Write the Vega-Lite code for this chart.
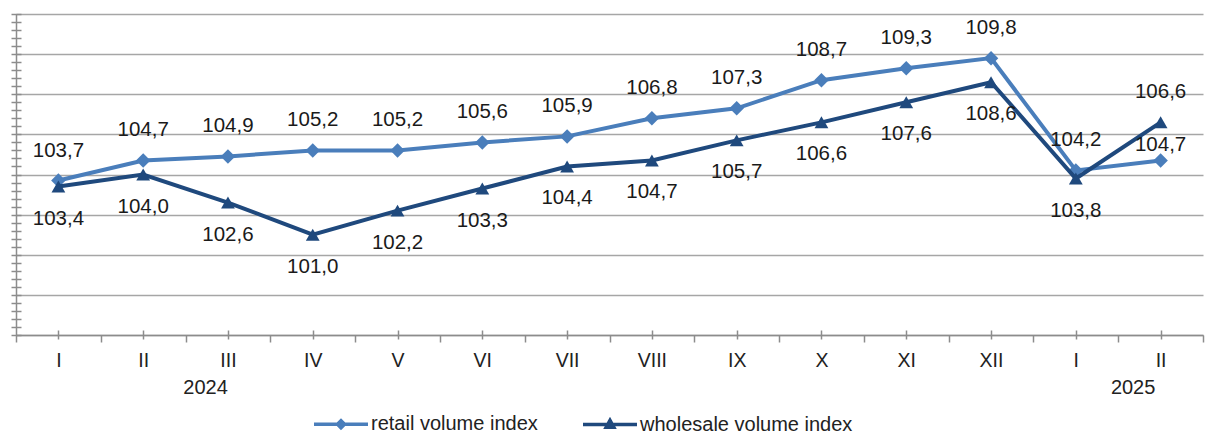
{
  "$schema": "https://vega.github.io/schema/vega-lite/v6.json",
  "width": 1187,
  "height": 321,
  "autosize": "none",
  "padding": {"left": 16, "top": 14, "right": 10, "bottom": 98},
  "background": "white",
  "config": {
    "view": {"stroke": null},
    "locale": {"number": {"decimal": ",", "thousands": " ", "grouping": [3], "currency": ["", ""]}},
    "font": "Liberation Sans",
    "axis": {"labelFont": "Liberation Sans", "labelColor": "#222222", "tickColor": "#8c8c8c", "tickWidth": 1.5, "domainColor": "#8c8c8c", "domainWidth": 1.5, "gridColor": "#a6a6a6", "gridWidth": 1.5, "title": null, "labelFlush": false, "labelOverlap": false, "labelBound": false}
  },
  "data": {"values": [
    {"idx": 0, "month": "I", "year": 2024, "series": "retail volume index", "value": 103.7},
    {"idx": 1, "month": "II", "year": 2024, "series": "retail volume index", "value": 104.7},
    {"idx": 2, "month": "III", "year": 2024, "series": "retail volume index", "value": 104.9},
    {"idx": 3, "month": "IV", "year": 2024, "series": "retail volume index", "value": 105.2},
    {"idx": 4, "month": "V", "year": 2024, "series": "retail volume index", "value": 105.2},
    {"idx": 5, "month": "VI", "year": 2024, "series": "retail volume index", "value": 105.6},
    {"idx": 6, "month": "VII", "year": 2024, "series": "retail volume index", "value": 105.9},
    {"idx": 7, "month": "VIII", "year": 2024, "series": "retail volume index", "value": 106.8},
    {"idx": 8, "month": "IX", "year": 2024, "series": "retail volume index", "value": 107.3},
    {"idx": 9, "month": "X", "year": 2024, "series": "retail volume index", "value": 108.7},
    {"idx": 10, "month": "XI", "year": 2024, "series": "retail volume index", "value": 109.3},
    {"idx": 11, "month": "XII", "year": 2024, "series": "retail volume index", "value": 109.8},
    {"idx": 12, "month": "I", "year": 2025, "series": "retail volume index", "value": 104.2},
    {"idx": 13, "month": "II", "year": 2025, "series": "retail volume index", "value": 104.7},
    {"idx": 0, "month": "I", "year": 2024, "series": "wholesale volume index", "value": 103.4},
    {"idx": 1, "month": "II", "year": 2024, "series": "wholesale volume index", "value": 104.0},
    {"idx": 2, "month": "III", "year": 2024, "series": "wholesale volume index", "value": 102.6},
    {"idx": 3, "month": "IV", "year": 2024, "series": "wholesale volume index", "value": 101.0},
    {"idx": 4, "month": "V", "year": 2024, "series": "wholesale volume index", "value": 102.2},
    {"idx": 5, "month": "VI", "year": 2024, "series": "wholesale volume index", "value": 103.3},
    {"idx": 6, "month": "VII", "year": 2024, "series": "wholesale volume index", "value": 104.4},
    {"idx": 7, "month": "VIII", "year": 2024, "series": "wholesale volume index", "value": 104.7},
    {"idx": 8, "month": "IX", "year": 2024, "series": "wholesale volume index", "value": 105.7},
    {"idx": 9, "month": "X", "year": 2024, "series": "wholesale volume index", "value": 106.6},
    {"idx": 10, "month": "XI", "year": 2024, "series": "wholesale volume index", "value": 107.6},
    {"idx": 11, "month": "XII", "year": 2024, "series": "wholesale volume index", "value": 108.6},
    {"idx": 12, "month": "I", "year": 2025, "series": "wholesale volume index", "value": 103.8},
    {"idx": 13, "month": "II", "year": 2025, "series": "wholesale volume index", "value": 106.6}
  ]},
  "encoding": {
    "y": {"field": "value", "type": "quantitative", "scale": {"domain": [96, 112], "nice": false, "zero": false}, "axis": null},
    "color": {
      "field": "series", "type": "nominal",
      "scale": {"domain": ["retail volume index", "wholesale volume index"], "range": ["#4a7ebb", "#1f497d"]},
      "legend": {
        "orient": "none", "legendX": 296, "legendY": 381, "direction": "horizontal", "title": null, "padding": 0,
        "labelFont": "Liberation Sans", "labelFontSize": 20, "labelColor": "#222222", "labelOffset": 1, "labelLimit": 400,
        "columnPadding": 38, "symbolSize": 2916, "symbolStrokeWidth": 3.5, "symbolType": "M-1,0L1,0",
        "encode": {"symbols": {"update": {
          "shape": {"signal": "datum.value == 'retail volume index' ? 'M-1,0L1,0M0,-0.13L0.13,0L0,0.13L-0.13,0Z' : 'M-1,0L1,0M0,-0.15L0.14,0.1L-0.14,0.1Z'"},
          "fill": {"scale": "color", "field": "value"},
          "stroke": {"scale": "color", "field": "value"},
          "opacity": {"value": 1}
        }}}
      }
    }
  },
  "layer": [
    {
      "transform": [{"filter": "datum.series == 'retail volume index'"}],
      "mark": {"type": "line", "strokeWidth": 4},
      "encoding": {
        "x": {"field": "idx", "type": "quantitative", "scale": {"domain": [-0.5, 13.5], "nice": false, "zero": false},
          "axis": {"orient": "bottom", "values": [-0.5, 0.5, 1.5, 2.5, 3.5, 4.5, 5.5, 6.5, 7.5, 8.5, 9.5, 10.5, 11.5, 12.5, 13.5], "labels": false, "ticks": true, "tickSize": 7, "domain": true, "grid": false}},
        "y": {"field": "value", "type": "quantitative", "scale": {"domain": [96, 112], "nice": false, "zero": false},
          "axis": {"orient": "left", "values": [96, 98, 100, 102, 104, 106, 108, 110, 112], "grid": true, "ticks": false, "labels": false, "domain": true}}
      }
    },
    {
      "transform": [{"filter": "datum.series == 'retail volume index'"}],
      "mark": {"type": "point", "filled": true, "shape": "diamond", "size": 210, "opacity": 1},
      "encoding": {
        "x": {"field": "idx", "type": "quantitative", "scale": {"domain": [-0.5, 13.5], "nice": false, "zero": false},
          "axis": {"orient": "bottom", "values": [0, 1, 2, 3, 4, 5, 6, 7, 8, 9, 10, 11, 12, 13], "labelExpr": "['I','II','III','IV','V','VI','VII','VIII','IX','X','XI','XII','I','II'][datum.value]", "offset": -5, "tickSize": 9, "domain": false, "grid": false, "labelFontSize": 19.5, "labelPadding": 12}},
        "y": {"field": "value", "type": "quantitative", "scale": {"domain": [96, 112], "nice": false, "zero": false},
          "axis": {"orient": "left", "values": [96, 96.4, 96.8, 97.2, 97.6, 98, 98.4, 98.8, 99.2, 99.6, 100, 100.4, 100.8, 101.2, 101.6, 102, 102.4, 102.8, 103.2, 103.6, 104, 104.4, 104.8, 105.2, 105.6, 106, 106.4, 106.8, 107.2, 107.6, 108, 108.4, 108.8, 109.2, 109.6, 110, 110.4, 110.8, 111.2, 111.6, 112], "offset": -5, "tickSize": 10, "labels": false, "domain": false, "grid": false}}
      }
    },
    {
      "transform": [{"filter": "datum.series == 'wholesale volume index'"}],
      "mark": {"type": "line", "strokeWidth": 4},
      "encoding": {
        "x": {"field": "idx", "type": "quantitative", "scale": {"domain": [-0.5, 13.5], "nice": false, "zero": false},
          "axis": {"orient": "bottom", "values": [1.73, 12.67], "labelExpr": "datum.value < 5 ? '2024' : '2025'", "ticks": false, "domain": false, "grid": false, "labelFontSize": 20, "labelPadding": 42,
            "encode": {"labels": {"update": {"dy": {"signal": "datum.value > 5 ? 7 : 0"}}}}}}
      }
    },
    {
      "transform": [{"filter": "datum.series == 'wholesale volume index'"}],
      "mark": {"type": "point", "filled": true, "shape": "triangle-up", "size": 190, "opacity": 1},
      "encoding": {
        "x": {"field": "idx", "type": "quantitative", "scale": {"domain": [-0.5, 13.5], "nice": false, "zero": false}, "axis": null}
      }
    },
    {
      "transform": [{"filter": "datum.series == 'retail volume index' && datum.idx < 13"}],
      "mark": {"type": "text", "fontSize": 20.5, "font": "Liberation Sans", "baseline": "alphabetic", "dy": -24},
      "encoding": {
        "x": {"field": "idx", "type": "quantitative", "scale": {"domain": [-0.5, 13.5], "nice": false, "zero": false}, "axis": null},
        "text": {"field": "value", "type": "quantitative", "format": ".1f"},
        "color": {"value": "#1a1a1a"}
      }
    },
    {
      "transform": [{"filter": "datum.series == 'retail volume index' && datum.idx == 13"}],
      "mark": {"type": "text", "fontSize": 20.5, "font": "Liberation Sans", "baseline": "alphabetic", "dy": -9},
      "encoding": {
        "x": {"field": "idx", "type": "quantitative", "scale": {"domain": [-0.5, 13.5], "nice": false, "zero": false}, "axis": null},
        "text": {"field": "value", "type": "quantitative", "format": ".1f"},
        "color": {"value": "#1a1a1a"}
      }
    },
    {
      "transform": [{"filter": "datum.series == 'wholesale volume index' && datum.idx < 13"}],
      "mark": {"type": "text", "fontSize": 20.5, "font": "Liberation Sans", "baseline": "alphabetic", "dy": 38},
      "encoding": {
        "x": {"field": "idx", "type": "quantitative", "scale": {"domain": [-0.5, 13.5], "nice": false, "zero": false}, "axis": null},
        "text": {"field": "value", "type": "quantitative", "format": ".1f"},
        "color": {"value": "#1a1a1a"}
      }
    },
    {
      "transform": [{"filter": "datum.series == 'wholesale volume index' && datum.idx == 13"}],
      "mark": {"type": "text", "fontSize": 20.5, "font": "Liberation Sans", "baseline": "alphabetic", "dy": -24},
      "encoding": {
        "x": {"field": "idx", "type": "quantitative", "scale": {"domain": [-0.5, 13.5], "nice": false, "zero": false}, "axis": null},
        "text": {"field": "value", "type": "quantitative", "format": ".1f"},
        "color": {"value": "#1a1a1a"}
      }
    }
  ],
  "resolve": {"axis": {"x": "independent", "y": "independent"}}
}
